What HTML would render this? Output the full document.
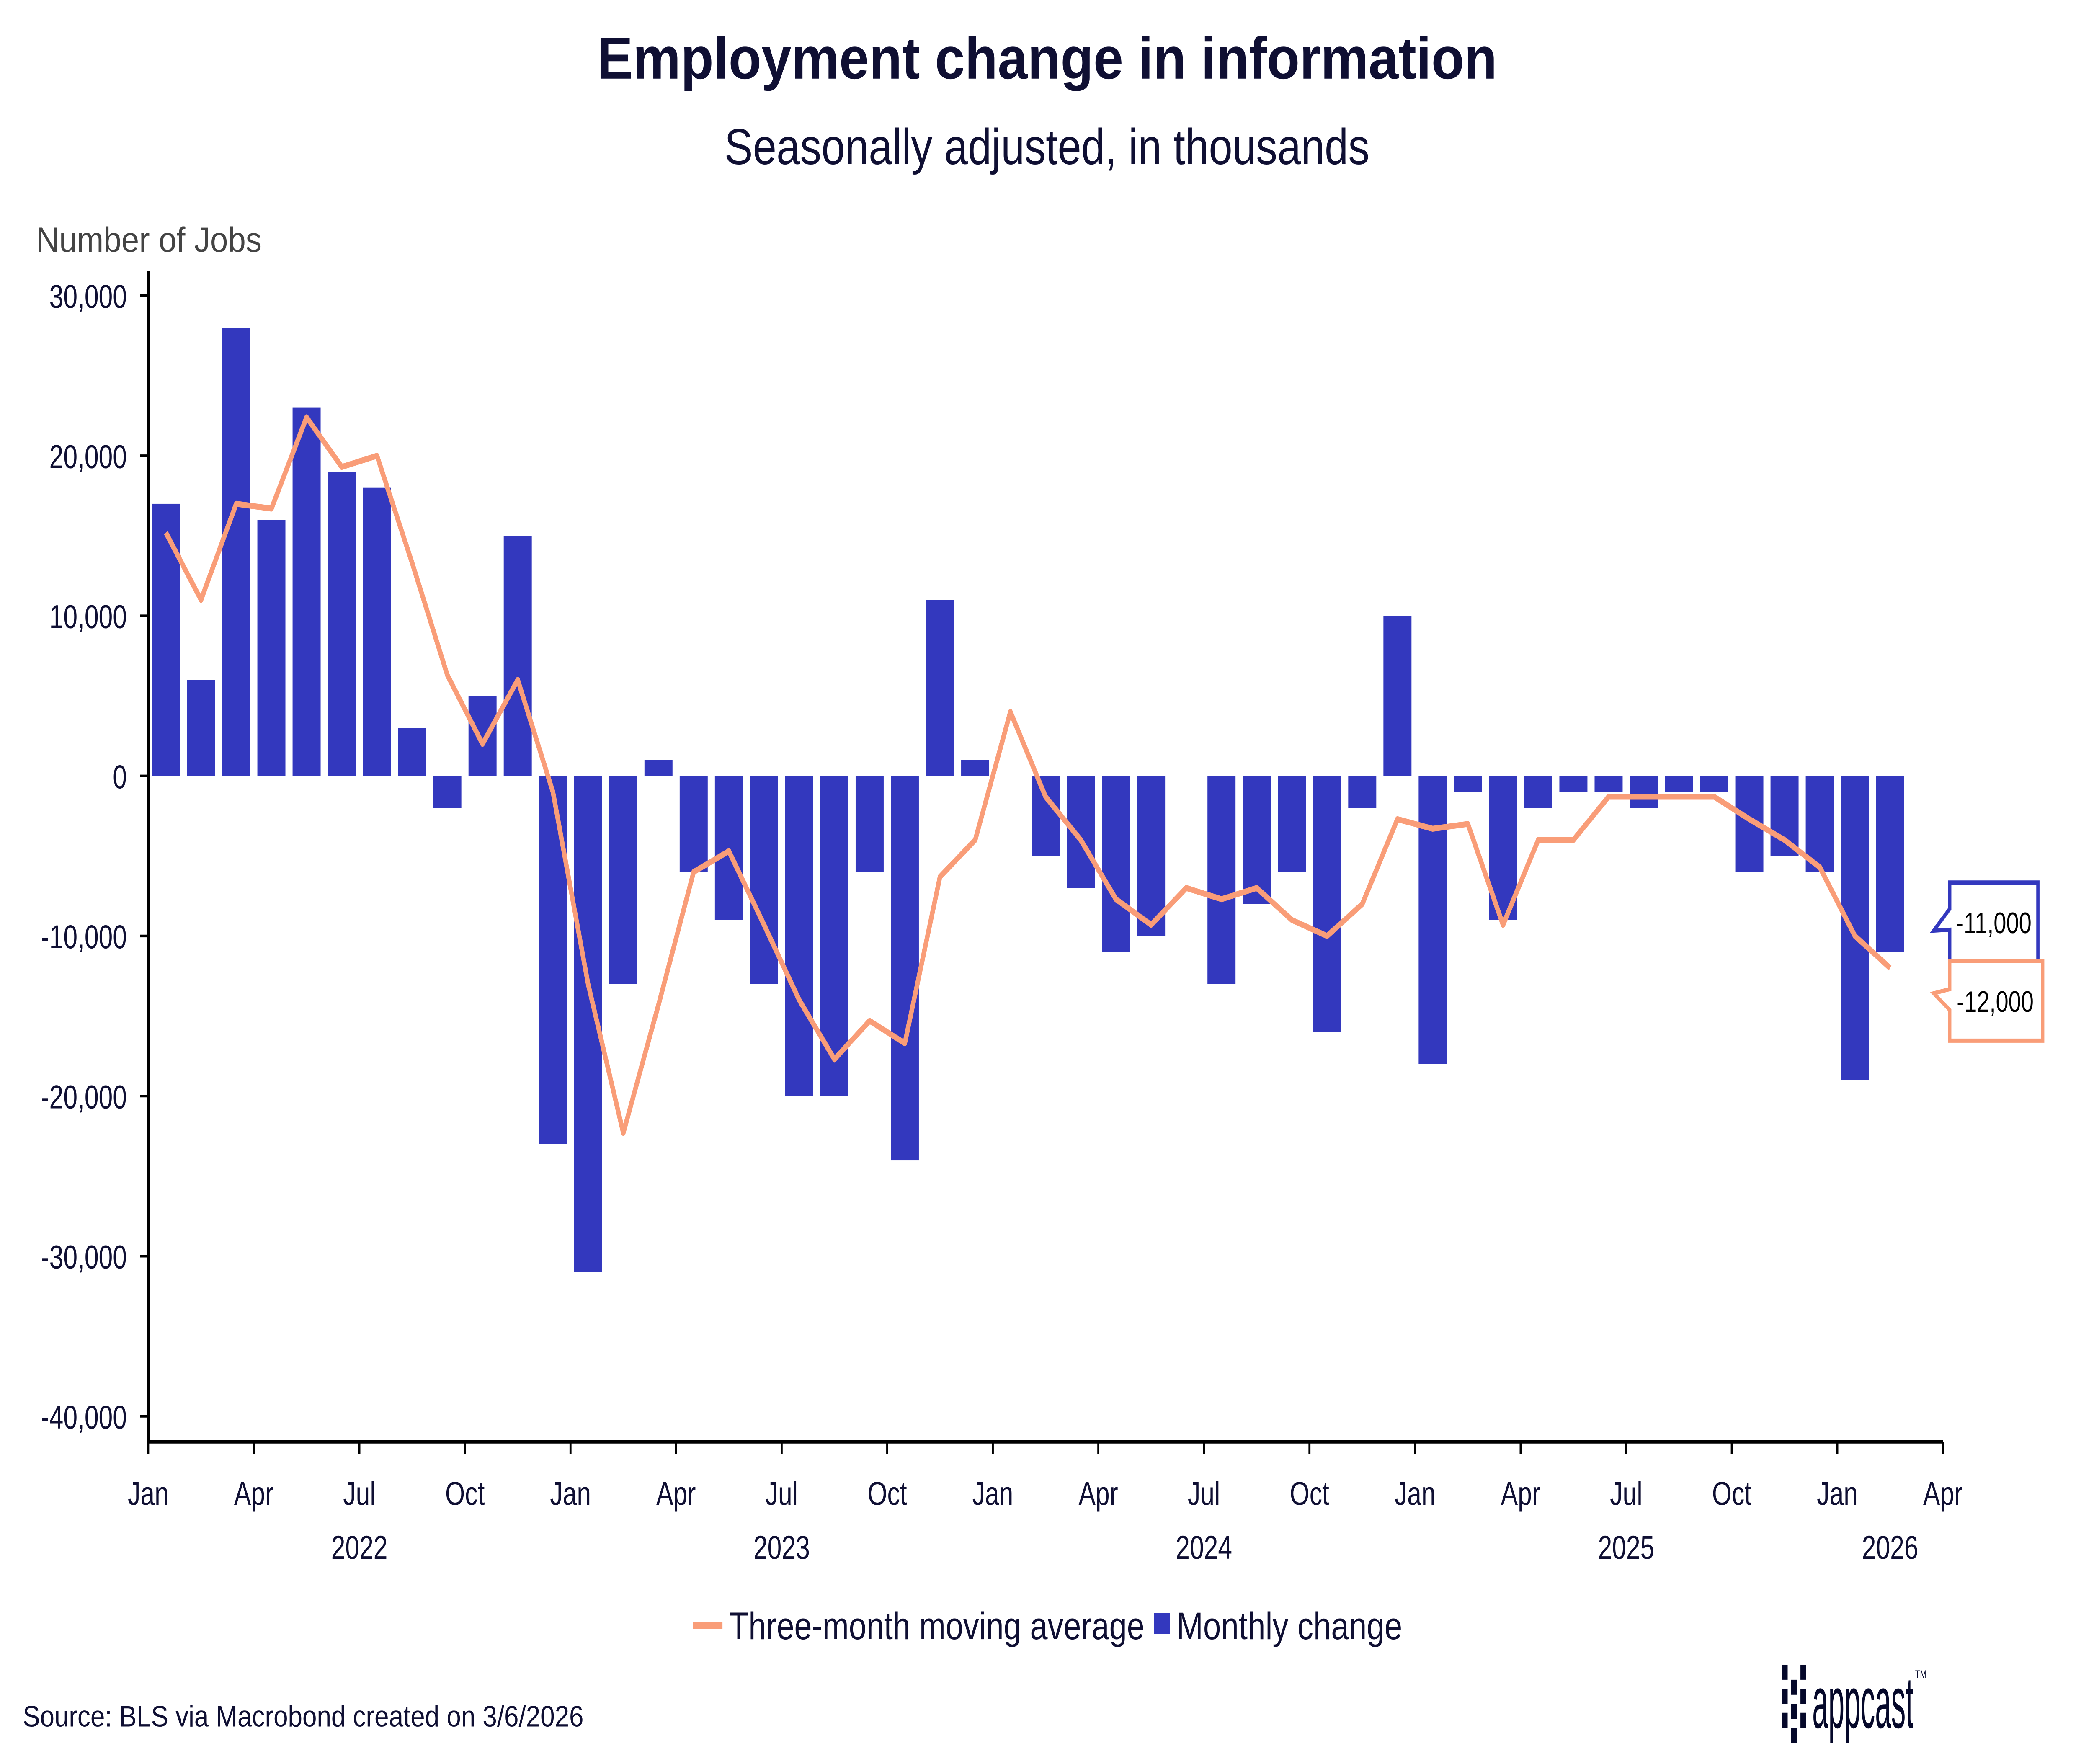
<!DOCTYPE html>
<html><head><meta charset="utf-8"><style>
html,body{margin:0;padding:0;background:#fff;width:100%;height:100%;overflow:hidden}
svg{display:block;width:100vw;height:100vh}
text{font-family:"Liberation Sans",sans-serif}
</style></head><body>
<svg id="chart" viewBox="0 0 1568 1009.4" preserveAspectRatio="none" xmlns="http://www.w3.org/2000/svg">
<rect width="1568" height="1009.4" fill="#fff"/>
<text x="784" y="45" text-anchor="middle" font-size="34" font-weight="bold" fill="#0f0f33" textLength="674" lengthAdjust="spacingAndGlyphs">Employment change in information</text>
<text x="784" y="94" text-anchor="middle" font-size="29" fill="#0f0f33" textLength="483" lengthAdjust="spacingAndGlyphs">Seasonally adjusted, in thousands</text>
<text x="27" y="144" font-size="20" fill="#444" textLength="169" lengthAdjust="spacingAndGlyphs">Number of Jobs</text>
<g id="bars"></g>
<g id="line"></g>
<g id="axes"></g>
<g>
<path d="M1460,505 H1526 V550 H1460 V532 L1448,532.5 L1460,520 Z" fill="#fff" stroke="#3338be" stroke-width="2.4"/>
<text x="1493" y="534" text-anchor="middle" font-size="17" fill="#000">-11,000</text>
</g>
<g>
<path d="M1460,550 H1529.6 V595.5 H1460 V578 L1448,568.4 L1460,566 Z" fill="#fff" stroke="#f99d78" stroke-width="2.4"/>
<text x="1494" y="579" text-anchor="middle" font-size="17" fill="#000">-12,000</text>
</g>
<g>
<line x1="519" y1="930" x2="541" y2="930" stroke="#f99d78" stroke-width="4"/>
<text x="546" y="938" font-size="22" fill="#0f0f33" textLength="311" lengthAdjust="spacingAndGlyphs">Three-month moving average</text>
<rect x="864" y="923" width="12" height="12" fill="#3338be"/>
<text x="881" y="938" font-size="22" fill="#0f0f33" textLength="169" lengthAdjust="spacingAndGlyphs">Monthly change</text>
</g>
<text x="17" y="988" font-size="17" fill="#0f0f33" textLength="420" lengthAdjust="spacingAndGlyphs">Source: BLS via Macrobond created on 3/6/2026</text>
<g fill="#05082a">
<rect x="1334.3" y="952.6" width="4.3" height="8.6"/><rect x="1334.3" y="966.4" width="4.3" height="8.6"/><rect x="1334.3" y="980.1" width="4.3" height="8.6"/>
<rect x="1341.2" y="961.2" width="4.3" height="8.6"/><rect x="1341.2" y="975.1" width="4.3" height="8.6"/><rect x="1341.2" y="988.7" width="4.3" height="8.6"/>
<rect x="1348.2" y="952.6" width="4.3" height="8.6"/><rect x="1348.2" y="966.4" width="4.3" height="8.6"/><rect x="1348.2" y="980.1" width="4.3" height="8.6"/>
<text x="1357" y="988.7" font-size="42" textLength="76" lengthAdjust="spacingAndGlyphs">appcast</text>
<text x="1434" y="960" font-size="6">TM</text>
</g>
</svg>
<script>
const monthly = [17,6,28,16,23,19,18,3,-2,5,15,-23,
 -31,-13,1,-6,-9,-13,-20,-20,-6,-24,11,1,
 0,-5,-7,-11,-10,0,-13,-8,-6,-16,-2,10,
 -18,-1,-9,-2,-1,-1,-2,-1,-1,-6,-5,-6,
 -19,-11];
const movingAvg = [15.2,11,17,16.7,22.4,19.3,20,13.3,6.3,2,6,-1,
 -13,-22.3,-14.3,-6,-4.7,-9.3,-14,-17.7,-15.3,-16.7,-6.3,-4,
 4,-1.3,-4,-7.7,-9.3,-7,-7.7,-7,-9,-10,-8,-2.7,
 -3.3,-3,-9.3,-4,-4,-1.3,-1.3,-1.3,-1.3,-2.7,-4,-5.7,
 -10,-12];
const yTicks = [30000,20000,10000,0,-10000,-20000,-30000,-40000];
const yTickLabels = ["30,000","20,000","10,000","0","-10,000","-20,000","-30,000","-40,000"];
const monthLabels = ["Jan","Apr","Jul","Oct"];
const yearLabels = ["2022","2023","2024","2025","2026"];

const NS="http://www.w3.org/2000/svg";
const X0=111, MW=26.35;
function xMonth(i){return X0+i*MW;}
function xCenter(i){return X0+(i+0.5)*MW;}
function y(v){return 444 - v*0.00916;}
function el(t,a,p){const e=document.createElementNS(NS,t);for(const k in a)e.setAttribute(k,a[k]);p.appendChild(e);return e;}
const bars=document.getElementById('bars'), line=document.getElementById('line'), axes=document.getElementById('axes');
monthly.forEach((v,i)=>{
  if(v===0) return;
  const vv=v*1000;
  const r=el('rect',{x:xCenter(i)-10.5,y:Math.min(y(vv),y(0)),width:21,height:Math.abs(y(vv)-y(0)),fill:'#3338be'},bars);
  
  
});
const pts=movingAvg.map((v,i)=>xCenter(i).toFixed(2)+','+y(v*1000).toFixed(2)).join(' ');
const pl=el('polyline',{points:pts,fill:'none',stroke:'#f99d78','stroke-width':3.4,'stroke-linejoin':'round'},line);


const ya=el('line',{x1:X0,y1:155,x2:X0,y2:825,stroke:'#000','stroke-width':2},axes);


const xa=el('line',{x1:X0,y1:825,x2:1455,y2:825,stroke:'#000','stroke-width':2},axes);


yTicks.forEach((t,i)=>{
  const tk=el('line',{x1:X0-6,y1:y(t),x2:X0,y2:y(t),stroke:'#000','stroke-width':1.5},axes);
  
  
  const tx=el('text',{x:95,y:y(t)+7,'text-anchor':'end','font-size':19,fill:'#0f0f33'},axes);
  tx.textContent=yTickLabels[i];
  
  
});
for(let q=0;q<=17;q++){
  const m=q*3, xx=xMonth(m);
  const tk=el('line',{x1:xx,y1:825,x2:xx,y2:832,stroke:'#000','stroke-width':1.5},axes);
  
  
  const tx=el('text',{x:xx,y:861,'text-anchor':'middle','font-size':19,fill:'#0f0f33'},axes);
  tx.textContent=monthLabels[q%4];
  
  
}
yearLabels.forEach((yl,i)=>{
  const xx= i<4 ? xMonth(i*12+6) : xMonth(48+1.5);
  const tx=el('text',{x:xx,y:892,'text-anchor':'middle','font-size':19,fill:'#0f0f33'},axes);
  tx.textContent=yl;
  
  
});
</script>
</body></html>
